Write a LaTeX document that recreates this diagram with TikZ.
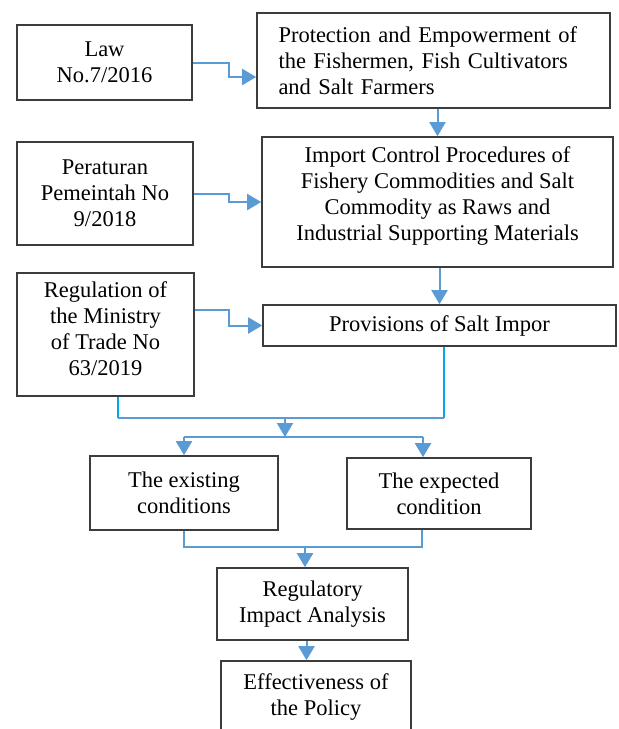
\documentclass[tikz,border=0pt]{standalone}
\usepackage{fontspec}
\setmainfont{Liberation Serif}
\usetikzlibrary{arrows.meta,calc}
\definecolor{flowblue}{RGB}{91,155,213}
\definecolor{linecyan}{RGB}{0,168,232}
\definecolor{boxgray}{RGB}{60,60,60}
\begin{document}
\begin{tikzpicture}
		[x=1pt,y=-1pt,
		blockbox/.style={rectangle,draw=boxgray,line width=1.6pt,align=center,
inner sep=2pt,font=\fontsize{22.5}{26}\selectfont},
		flowstyle/.style={-{Triangle[width=16pt,length=14pt]},flowblue,line width=2pt},
		linestyle/.style={-,flowblue,line width=2pt},
		cyanline/.style={-,linecyan,line width=2pt}]
		\useasboundingbox (0,0) rectangle (619,729);
		% boxes
		\node at (104.5,62.5) (law) [blockbox,minimum width=175pt,minimum height=75pt] {Law\\No.7/2016};
		\node at (433.5,60.5) (prot) [blockbox,minimum width=353pt,minimum height=95pt,
text width=310pt,align=left,inner xsep=21.5pt] {Protection and Empowerment of\\the Fishermen, Fish Cultivators\\and Salt Farmers};
		\node at (105,193.5) (per) [blockbox,minimum width=176pt,minimum height=103pt] {Peraturan\\Pemeintah No\\9/2018};
		\node at (437.5,202) (imp) [blockbox,minimum width=351pt,minimum height=130pt] {Import Control Procedures of\\Fishery Commodities and Salt\\Commodity as Raws and\\Industrial Supporting Materials\\[-10pt]\mbox{}};
		\node at (105.5,334.5) (reg) [blockbox,minimum width=177pt,minimum height=123pt] {Regulation of\\the Ministry\\of Trade No\\63/2019\\[-14pt]\mbox{}};
		\node at (439.5,325.5) (prov) [blockbox,minimum width=353pt,minimum height=41pt] {Provisions of Salt Impor};
		\node at (184,493) (ex) [blockbox,minimum width=188pt,minimum height=74pt] {The existing\\conditions};
		\node at (439,493.5) (expd) [blockbox,minimum width=184pt,minimum height=71pt] {The expected\\condition};
		\node at (312.5,604) (ria) [blockbox,minimum width=191pt,minimum height=72pt] {Regulatory\\Impact Analysis};
		\node at (316,700) (eff) [blockbox,minimum width=190pt,minimum height=78pt] {Effectiveness of\\the Policy\\[-16pt]\mbox{}};
		% legal basis into the boxes on the right
		\draw[flowstyle] (law.east) -- ++(36,0) |- ($(prot.west)+(0,16.5)$);
		\draw[flowstyle] (per.east) -- ++(35,0) |- (imp.west);
		\draw[flowstyle] ($(reg.east)+(0,-25)$) -- ++(34,0) |- (prov.west);
		\draw[flowstyle] (imp.north |- prot.south) -- (imp.north);
		\draw[flowstyle] (prov.north |- imp.south) -- (prov.north);
		% merge and split
		\coordinate (merge) at (285,418);
		\coordinate (split) at (285,437);
		\coordinate (regout) at ($(reg.south)+(12,0)$);
		\coordinate (provout) at ($(prov.south)+(4,0)$);
		\draw[cyanline] (regout) -- (regout |- merge);
		\draw[cyanline] (provout) -- (provout |- merge);
		\draw[linestyle] (regout |- merge) -- (provout |- merge);
		\draw[flowstyle] (merge) -- (split);
		\coordinate (exin) at (split -| ex.north);
		\coordinate (expin) at ($(split -| expd.north)+(-16,0)$);
		\draw[linestyle] (exin) -- (expin);
		\draw[flowstyle] (exin) -- (ex.north);
		\draw[flowstyle] (expin) -- (expin |- expd.north);
		% into the analysis
		\coordinate (join) at (305,547);
		\coordinate (expout) at ($(expd.south)+(-17,0)$);
		\draw[linestyle] (ex.south) |- (join);
		\draw[linestyle] (expout) |- (join);
		\draw[flowstyle] (join) -- (join |- ria.north);
		\coordinate (riaout) at ($(ria.south)+(-6,0)$);
		\draw[flowstyle] (riaout) -- (riaout |- eff.north);
\end{tikzpicture}
\end{document}
